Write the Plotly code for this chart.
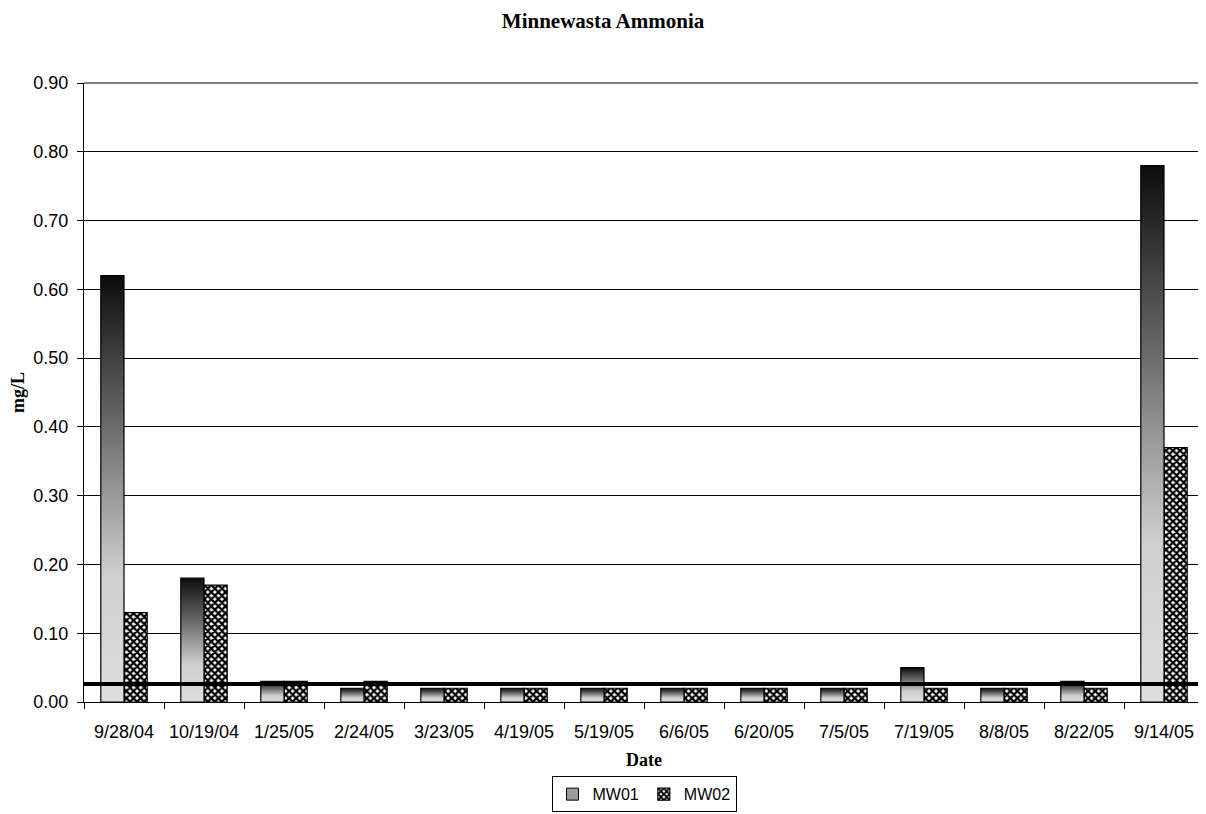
import plotly.graph_objects as go

dates = ["9/28/04", "10/19/04", "1/25/05", "2/24/05", "3/23/05", "4/19/05", "5/19/05",
         "6/6/05", "6/20/05", "7/5/05", "7/19/05", "8/8/05", "8/22/05", "9/14/05"]
mw01 = [0.62, 0.18, 0.03, 0.02, 0.02, 0.02, 0.02, 0.02, 0.02, 0.02, 0.05, 0.02, 0.03, 0.78]
mw02 = [0.13, 0.17, 0.03, 0.03, 0.02, 0.02, 0.02, 0.02, 0.02, 0.02, 0.02, 0.02, 0.02, 0.37]
threshold = 0.026
y_ticks = [0.0, 0.1, 0.2, 0.3, 0.4, 0.5, 0.6, 0.7, 0.8, 0.9]

BW = 0.29
grad = [[0, "#dedede"], [0.3, "#cfcfcf"], [0.65, "#6a6a6a"], [1, "#0c0c0c"]]
SANS = "Liberation Sans"
SERIF = "Liberation Serif"

fig = go.Figure()

# MW01 bars drawn as filled shapes with vertical gradient
for i, v in enumerate(mw01):
    fig.add_trace(go.Scatter(
        x=[i - BW, i - BW, i, i, i - BW], y=[0, v, v, 0, 0],
        mode="lines", fill="toself",
        fillgradient=dict(type="vertical", colorscale=grad),
        line=dict(color="black", width=1.2),
        showlegend=False, hoverinfo="skip", legendgroup="MW01"))

# legend entry for MW01
fig.add_trace(go.Bar(x=[None], y=[None], name="MW01",
                     marker=dict(color="#9a9a9a", line=dict(color="black", width=1)),
                     legendgroup="MW01"))

fig.add_trace(go.Bar(
    x=list(range(len(dates))), y=mw02, name="MW02",
    width=BW, offset=0,
    marker=dict(color="white", line=dict(color="black", width=1.2),
                pattern=dict(shape="x", bgcolor="white", fgcolor="black",
                             size=5, solidity=0.7, fillmode="replace"))))

fig.add_shape(type="line", xref="paper", yref="y", x0=0, x1=1.003,
              y0=threshold, y1=threshold, line=dict(color="black", width=4), layer="above")

fig.update_layout(
    width=1198, height=806,
    margin=dict(l=76, r=2, t=75, b=112, autoexpand=False),
    paper_bgcolor="white", plot_bgcolor="white",
    title=dict(text="<b>Minnewasta Ammonia</b>", x=0.4967, xref="container", xanchor="center",
               y=0.984, yanchor="middle",
               font=dict(family=SERIF, size=21, color="black")),
    barmode="overlay",
    showlegend=True,
    legend=dict(orientation="h", x=0.5, xanchor="center", y=-0.149, yanchor="middle",
                bordercolor="black", borderwidth=1, bgcolor="white",
                font=dict(family=SANS, size=16, color="black"),
                itemwidth=30, tracegroupgap=0, traceorder="normal"),
    font=dict(family=SANS, size=18, color="black"),
)

fig.update_xaxes(
    range=[-0.5, len(dates) - 0.5], automargin=False,
    tickvals=list(range(len(dates))), ticktext=dates,
    ticks="outside", ticklen=13, tickcolor="rgba(0,0,0,0)",
    showgrid=False, zeroline=False,
    showline=True, linecolor="black", linewidth=1,
    tickfont=dict(family=SANS, size=18, color="black"),
    minor=dict(tickvals=[i - 0.5 for i in range(len(dates) + 1)], ticks="outside",
               ticklen=6, tickcolor="black", showgrid=False),
    title=dict(text="<b>Date</b>", font=dict(family=SERIF, size=18, color="black"),
               standoff=12),
)
fig.update_yaxes(
    range=[0, 0.9], automargin=False, tickvals=y_ticks, tickformat=".2f",
    ticks="outside", ticklen=6, tickcolor="black", ticklabelstandoff=5,
    showgrid=True, gridcolor="black", gridwidth=1,
    zeroline=False, showline=True, linecolor="black", linewidth=1,
    tickfont=dict(family=SANS, size=18, color="black"),
    title=dict(text="<b>mg/L</b>", font=dict(family=SERIF, size=18, color="black"),
               standoff=8),
)

# gray plot-area border on top and right
fig.add_shape(type="line", xref="paper", yref="paper", x0=0, x1=1, y0=1, y1=1,
              line=dict(color="#808080", width=2), layer="above")
fig.add_shape(type="line", xref="paper", yref="paper", x0=1, x1=1, y0=0, y1=1,
              line=dict(color="#808080", width=2), layer="above")

fig.write_html("out.html")
